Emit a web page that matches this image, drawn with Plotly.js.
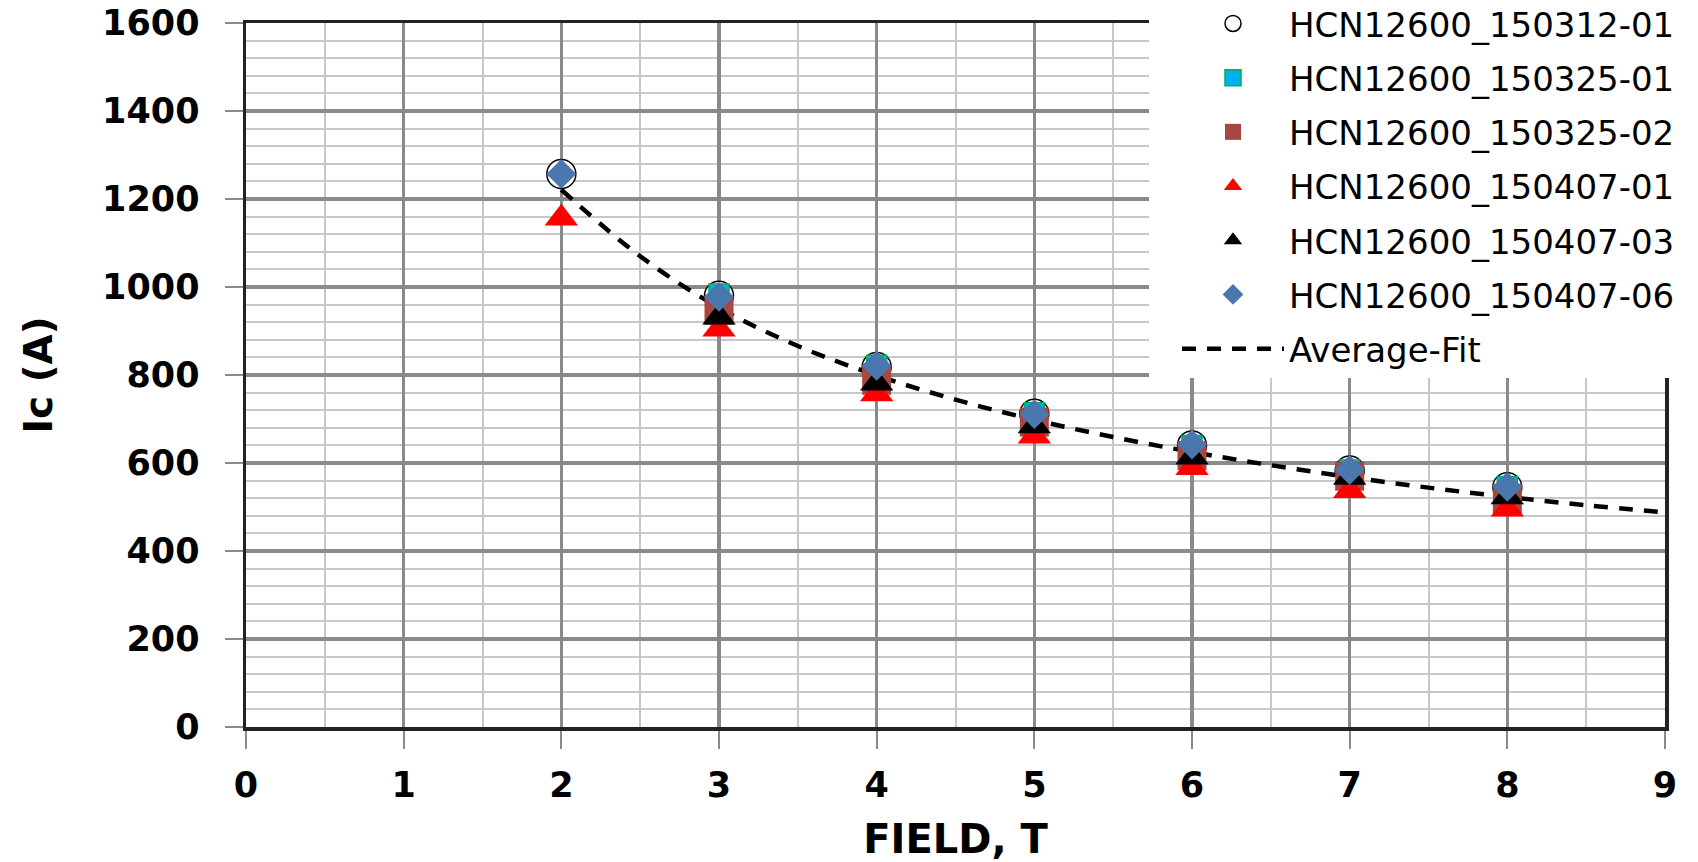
<!DOCTYPE html>
<html>
<head>
<meta charset="utf-8">
<script src="https://cdn.plot.ly/plotly-3.0.1.min.js"></script>
<style>html,body{margin:0;padding:0;background:#fff;}#chart{width:1698px;height:862px;}</style>
</head>
<body>
<div id="chart"></div>
<script>
// Field values (T)
const fieldT = [2, 3, 4, 5, 6, 7, 8];

// Ic (A) per sample
const ic_150312_01 = [1257, 980, 818, 712, 640, 583, 545];
const ic_150325_01 = [null, 984, 822, 714, 640, 584, 546];
const ic_150325_02 = [null, 947, 788, 693, 617, 570, 519];
const ic_150407_01 = [1156, 904, 757, 661, 589, 537, 495];
const ic_150407_03 = [null, 931, 781, 684, 613, 567, 523];
const ic_150407_06 = [1257, 978, 821, 711, 642, 584, 546];

// Average fit curve
const fitField = [2, 2.5, 3, 3.5, 4, 4.5, 5, 5.5, 6, 6.5, 7, 7.5, 8, 8.5, 9];
const fitIc = [1221, 1070, 953, 866, 799, 744, 698, 659, 625, 595, 568, 544, 523, 504, 488];

const seriesNames = [
  'HCN12600_150312-01', 'HCN12600_150325-01', 'HCN12600_150325-02',
  'HCN12600_150407-01', 'HCN12600_150407-03', 'HCN12600_150407-06', 'Average-Fit'
];

const traces = [
  {
    x: fitField, y: fitIc, name: seriesNames[6], mode: 'lines', type: 'scatter',
    line: {color: '#000000', width: 4.5, dash: '14px,11px', shape: 'spline'},
    legendgroup: 'g7', legendrank: 1007
  },
  {
    x: fieldT, y: ic_150312_01, name: seriesNames[0], mode: 'markers', type: 'scatter',
    marker: {symbol: 'circle', size: 29, color: '#ffffff', line: {color: '#000000', width: 1.5}},
    legendgroup: 'g1', legendrank: 1001
  },
  {
    x: fieldT, y: ic_150325_01, name: seriesNames[1], mode: 'markers', type: 'scatter',
    marker: {symbol: 'square', size: 20, color: '#00B0F0', line: {color: '#00B050', width: 1.5}},
    legendgroup: 'g2', legendrank: 1002
  },
  {
    x: fieldT, y: ic_150325_02, name: seriesNames[2], mode: 'markers', type: 'scatter',
    marker: {symbol: 'square', size: 29, color: '#A8463F', line: {width: 0}},
    legendgroup: 'g3', legendrank: 1003
  },
  {
    x: fieldT, y: ic_150407_01, name: seriesNames[3], mode: 'markers', type: 'scatter',
    marker: {symbol: 'triangle-up', size: 29, color: '#FF0000', line: {width: 0}},
    legendgroup: 'g4', legendrank: 1004
  },
  {
    x: fieldT, y: ic_150407_03, name: seriesNames[4], mode: 'markers', type: 'scatter',
    marker: {symbol: 'triangle-up', size: 29, color: '#000000', line: {width: 0}},
    legendgroup: 'g5', legendrank: 1005
  },
  {
    x: fieldT, y: ic_150407_06, name: seriesNames[5], mode: 'markers', type: 'scatter',
    marker: {symbol: 'diamond', size: 23, color: '#4A77AE', line: {width: 0}},
    legendgroup: 'g6', legendrank: 1006
  }
];

const tickFont = {family: 'DejaVu Sans', size: 35, color: '#000000', weight: 'bold'};

const layout = {
  width: 1698, height: 862,
  paper_bgcolor: '#ffffff', plot_bgcolor: '#ffffff',
  margin: {l: 246, r: 33, t: 23, b: 135, autoexpand: false},
  showlegend: true,
  xaxis: {
    range: [0, 9], dtick: 1, tick0: 0,
    showgrid: true, gridcolor: '#8a8a8a', gridwidth: 3.5,
    minor: {dtick: 0.5, showgrid: true, gridcolor: '#c8c8c8', gridwidth: 2, ticks: ''},
    zeroline: false,
    showline: true, mirror: true, linecolor: '#222222', linewidth: 3.5,
    ticks: 'outside', ticklen: 18, tickwidth: 2, tickcolor: '#8a8a8a',
    tickfont: tickFont, ticklabelstandoff: 6,
    title: {text: 'FIELD, T', font: {family: 'DejaVu Sans', size: 40, color: '#000000', weight: 'bold'}, standoff: 22},
    automargin: false, fixedrange: true
  },
  yaxis: {
    range: [0, 1600], dtick: 200, tick0: 0,
    showgrid: true, gridcolor: '#8a8a8a', gridwidth: 3.5,
    minor: {dtick: 40, showgrid: true, gridcolor: '#c8c8c8', gridwidth: 2, ticks: ''},
    zeroline: false,
    showline: true, mirror: true, linecolor: '#222222', linewidth: 3.5,
    ticks: 'outside', ticklen: 18, tickwidth: 2, tickcolor: '#8a8a8a',
    tickfont: tickFont, ticklabelstandoff: 18,
    title: {text: 'Ic (A)', font: {family: 'DejaVu Sans', size: 39, color: '#000000', weight: 'bold'}, standoff: 38},
    automargin: false, fixedrange: true
  },
  legend: {
    xref: 'container', yref: 'paper',
    x: 1149 / 1698, xanchor: 'left',
    y: 1.04, yanchor: 'top',
    bgcolor: '#ffffff', borderwidth: 0,
    font: {family: 'DejaVu Sans', size: 34, color: '#000000'},
    itemwidth: 102, indentation: 28,
    traceorder: 'grouped', tracegroupgap: 7,
    itemsizing: 'trace'
  }
};

Plotly.newPlot('chart', traces, layout, {displayModeBar: false, staticPlot: true});
</script>
</body>
</html>
